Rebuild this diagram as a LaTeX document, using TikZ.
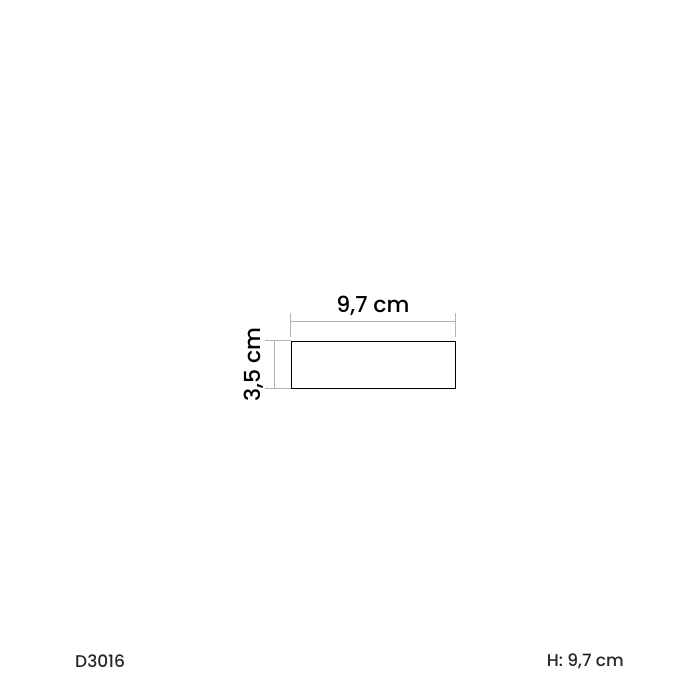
\documentclass[tikz,border=0pt]{standalone}
\usepackage{fontspec}
\setmainfont{Poppins Medium}
\begin{document}
\begin{tikzpicture}[x=1pt,y=-1pt,
  dim/.style={draw=black!30,line width=0.9pt},
  lbl/.style={inner sep=0pt,font=\fontsize{22}{26}\selectfont},
  foot/.style={inner sep=0pt,font=\fontsize{17}{20}\selectfont,text=black!85}]
\useasboundingbox[fill=white] (0,0) rectangle (700,700);
\node[draw=black,line width=0.9pt,minimum width=164pt,minimum height=47pt,inner sep=0pt] (box) at (373,364.5) {};
\coordinate (tl) at (box.north west);
\coordinate (tr) at (box.north east);
\coordinate (bl) at (box.south west);
% top dimension
\draw[dim] ([yshift=28pt]tl) -- ([yshift=4pt]tl);
\draw[dim] ([yshift=28pt]tr) -- ([yshift=4pt]tr);
\draw[dim] ([yshift=19pt]tl) coordinate (d1) -- ([yshift=19pt]tr) coordinate (d2);
\node[lbl] (w) at (373,306) {9,7 cm};
% left dimension
\draw[dim] ([xshift=-26pt]tl) -- (tl);
\draw[dim] ([xshift=-26pt]bl) -- (bl);
\draw[dim] ([xshift=-16pt]tl) coordinate (d3) -- ([xshift=-16pt]bl) coordinate (d4);
\node[lbl,rotate=90] (h) at (254,364.5) {3,5 cm};
% footer
\node[foot,anchor=west] (code) at (75,661) {D3016};
\node[foot,anchor=east] (hh) at (624,661) {H: 9,7 cm};
\end{tikzpicture}
\end{document}
